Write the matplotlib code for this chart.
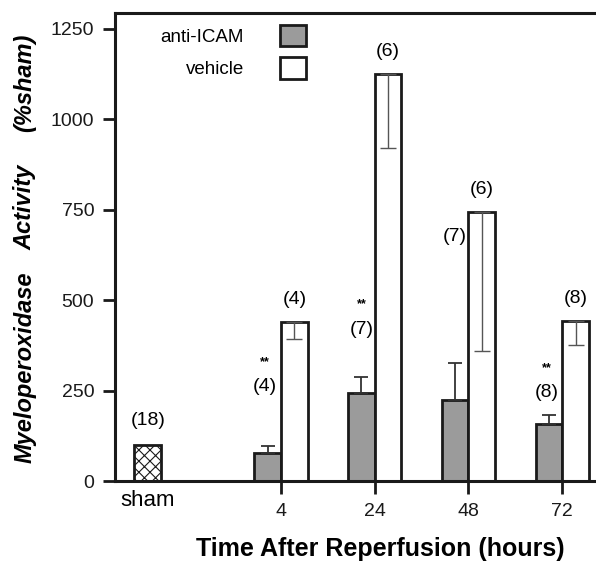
import numpy as np
import matplotlib.pyplot as plt
from matplotlib.patches import Patch

plt.rcParams['font.family'] = ['Liberation Sans', 'DejaVu Sans']
plt.rcParams['hatch.linewidth'] = 0.8

# time points (hours) and MPO activity as % of sham
hours = ['4', '24', '48', '72']
anti_icam = [78, 244, 224, 158]
anti_icam_err = [19, 43, 101, 24]
vehicle = [439, 1125, 743, 442]
vehicle_err = [47, 203, 383, 66]
anti_icam_n = ['(4)', '(7)', '(7)', '(8)']
vehicle_n = ['(4)', '(6)', '(6)', '(8)']
anti_icam_sig = ['**', '**', '', '**']
sham = 100
sham_n = '(18)'

# where the anti-ICAM n labels sit (y in data units, x offset in group units)
anti_label_y = [260, 420, 675, 245]
anti_label_dx = [-0.03, 0.0, 0.0, -0.02]

x = np.arange(len(hours))
sham_x = -1.42
width = 0.285

fig = plt.figure(figsize=(5.96, 5.64), dpi=100)
ax = fig.add_axes([115 / 596, 83 / 564, 1 - 115 / 596, (481 - 13) / 564])

ax.bar(sham_x, sham, width, color='white', edgecolor='#1a1a1a',
       linewidth=2, hatch='xxx')
ax.bar(x - width / 2, anti_icam, width, color='#9b9b9b', edgecolor='#1a1a1a',
       linewidth=2, label='anti-ICAM',
       yerr=[np.zeros(4), anti_icam_err],
       error_kw=dict(ecolor='#333333', elinewidth=1.3, capsize=4.8, capthick=1.3))
ax.bar(x + width / 2, vehicle, width, color='white', edgecolor='#1a1a1a',
       linewidth=2, label='vehicle',
       yerr=[vehicle_err, np.zeros(4)],
       error_kw=dict(ecolor='#555555', elinewidth=1.0, capsize=5.5, capthick=1.0))

fs = 14
for i in range(len(hours)):
    ax.text(x[i] + width / 2, vehicle[i] + 62, vehicle_n[i],
            ha='center', va='center', fontsize=fs)
    ax.text(x[i] - width / 2 + anti_label_dx[i], anti_label_y[i], anti_icam_n[i],
            ha='center', va='center', fontsize=fs)
    if anti_icam_sig[i]:
        ax.text(x[i] - width / 2 + anti_label_dx[i], anti_label_y[i] + 68,
                anti_icam_sig[i], ha='center', va='center', fontsize=9,
                fontweight='bold')
ax.text(sham_x, sham + 68, sham_n, ha='center', va='center', fontsize=fs)
ax.text(sham_x, -55, 'sham', ha='center', va='center', fontsize=16)

ax.set_xlim(-1.77, 3.36)
ax.set_ylim(0, 1294)
ax.set_xticks(x)
ax.set_xticklabels(hours)
ax.set_yticks([0, 250, 500, 750, 1000, 1250])
ax.tick_params(axis='both', direction='out', length=9, width=2,
               labelsize=fs, colors='#1a1a1a')
ax.tick_params(axis='x', pad=7)
ax.tick_params(axis='y', pad=6)

for side in ['left', 'top', 'bottom']:
    ax.spines[side].set_linewidth(2.2)
    ax.spines[side].set_color('#1a1a1a')
ax.spines['right'].set_visible(False)

handles = [Patch(facecolor='#9b9b9b', edgecolor='#1a1a1a', linewidth=2),
           Patch(facecolor='white', edgecolor='#1a1a1a', linewidth=2)]
ax.legend(handles, ['anti-ICAM', 'vehicle'], loc='upper left',
          bbox_to_anchor=(0.06, 1.01), frameon=False, markerfirst=False,
          fontsize=13.5, handlelength=1.4, handleheight=1.35,
          handletextpad=1.9, labelspacing=0.6)

fig.text(380 / 596, 1 - 549 / 564, 'Time After Reperfusion (hours)',
         ha='center', va='center', fontsize=18, fontweight='bold')
ylab_x = 25 / 596
fig.text(ylab_x, 1 - 367 / 564, 'Myeloperoxidase', rotation=90,
         ha='center', va='center', fontsize=17, fontweight='bold', style='italic')
fig.text(ylab_x, 1 - 207 / 564, 'Activity', rotation=90,
         ha='center', va='center', fontsize=17, fontweight='bold', style='italic')
fig.text(ylab_x, 1 - 83 / 564, '(%sham)', rotation=90,
         ha='center', va='center', fontsize=17, fontweight='bold', style='italic')

fig.savefig('out.png', dpi=100)
